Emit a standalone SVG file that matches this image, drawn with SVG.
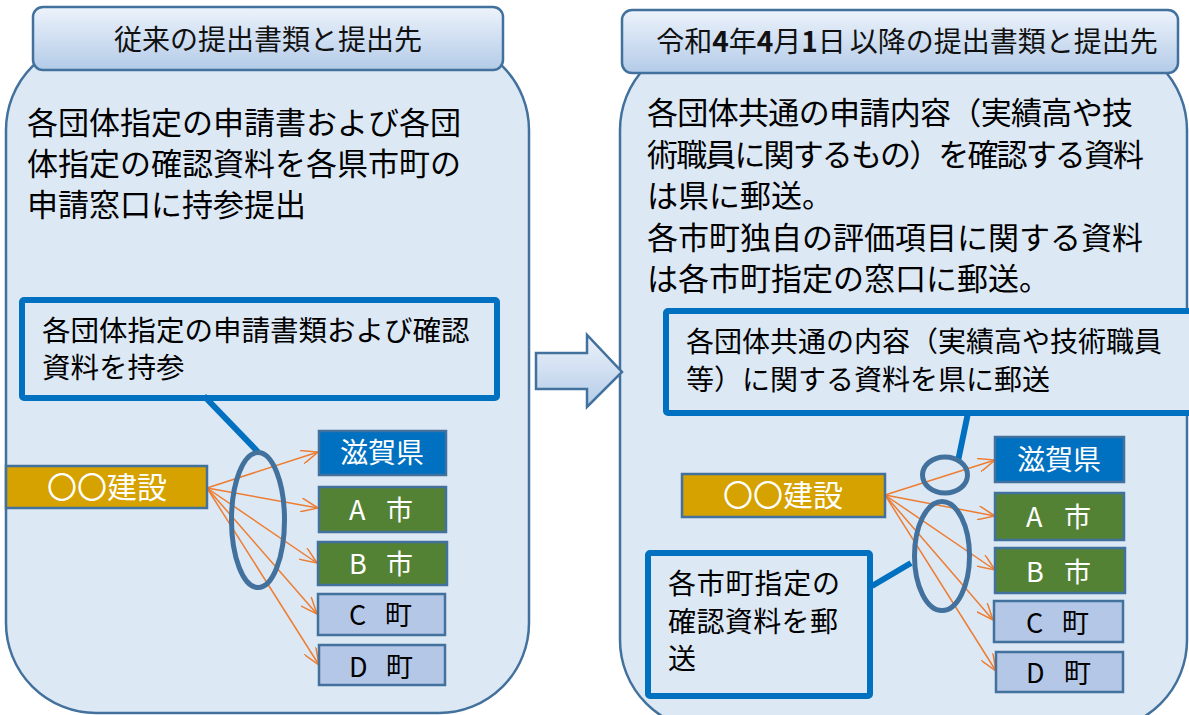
<svg xmlns="http://www.w3.org/2000/svg" width="1189" height="715" viewBox="0 0 1189 715">
  <defs>
    <linearGradient id="hdrGrad" x1="0" y1="0" x2="0" y2="1">
      <stop offset="0" stop-color="#edf3fb"/>
      <stop offset="1" stop-color="#b3cbe8"/>
    </linearGradient>
    <linearGradient id="arrGrad" x1="0" y1="0" x2="0" y2="1">
      <stop offset="0" stop-color="#edf3fb"/>
      <stop offset="1" stop-color="#b3cbe8"/>
    </linearGradient>
    <marker id="openArrow" viewBox="0 0 18 14" refX="17" refY="7" markerWidth="18" markerHeight="14" markerUnits="userSpaceOnUse" orient="auto">
      <path d="M0,0 L17,7 L0,14" fill="none" stroke="#ed7d31" stroke-width="1.5"/>
    </marker>
    <style>
      text { font-family: "Noto Sans CJK JP", "Noto Sans", sans-serif; }
      .panel { fill: #dde8f5; stroke: #41719c; stroke-width: 2.5; }
      .hdr { fill: url(#hdrGrad); stroke: #41719c; stroke-width: 2.5; }
      .hdrText { font-size: 28px; fill: #111; text-anchor: middle; }
      .body { font-size: 31px; fill: #000; }
      .callout { fill: #dde8f5; stroke: #0070c0; stroke-width: 6; }
      .callText { font-size: 28.5px; fill: #000; }
      .ring { fill: none; stroke: #41719c; stroke-width: 5; }
      .lead { stroke: #0070c0; stroke-width: 6; fill: none; }
      .flow { stroke: #ed7d31; stroke-width: 1.5; fill: none; marker-end: url(#openArrow); }
      .box { stroke: #41719c; stroke-width: 2.5; }
      .corp { fill: #d5a200; }
      .pref { fill: #0070c0; }
      .city { fill: #548235; }
      .town { fill: #b4c7e7; }
      .lbl { font-size: 28px; text-anchor: middle; }
      .tag { font-size: 27px; }
      .white { fill: #ffffff; }
      .dark { fill: #000000; }
    </style>
  </defs>

  <!-- Left panel -->
  <g id="left-panel">
    <rect class="panel" x="6" y="40" width="523" height="673" rx="90" ry="90"/>
  </g>
  <!-- Right panel -->
  <g id="right-panel">
    <rect class="panel" x="620" y="40" width="567" height="690" rx="90" ry="90"/>
  </g>

  <!-- Headers -->
  <g id="left-header">
    <rect class="hdr" x="33" y="7" width="470" height="63" rx="10" ry="10"/>
    <text class="hdrText" x="268" y="50">従来の提出書類と提出先</text>
  </g>
  <g id="right-header">
    <rect class="hdr" x="622" y="10" width="556" height="63" rx="10" ry="10"/>
    <text class="hdrText" x="907" y="52">令和<tspan font-weight="bold">4</tspan>年<tspan font-weight="bold">4</tspan>月<tspan font-weight="bold">1</tspan>日<tspan dx="4">以降の提出書類と提出先</tspan></text>
  </g>

  <!-- Transition arrow -->
  <g id="transition-arrow">
    <path d="M536,353 L587,353 L587,335 L622,372 L587,407 L587,389 L536,389 Z" fill="url(#arrGrad)" stroke="#41719c" stroke-width="2.5" stroke-linejoin="miter"/>
  </g>

  <!-- Left body text -->
  <g id="left-description">
    <text class="body" x="27" y="134">各団体指定の申請書および各団</text>
    <text class="body" x="27" y="175">体指定の確認資料を各県市町の</text>
    <text class="body" x="27" y="216">申請窓口に持参提出</text>
  </g>

  <!-- Right body text -->
  <g id="right-description">
    <text class="body" x="647" y="124" textLength="486" lengthAdjust="spacing">各団体共通の申請内容（実績高や技</text>
    <text class="body" x="647" y="166" textLength="497" lengthAdjust="spacing">術職員に関するもの）を確認する資料</text>
    <text class="body" x="647" y="207">は県に郵送。</text>
    <text class="body" x="647" y="249">各市町独自の評価項目に関する資料</text>
    <text class="body" x="647" y="290">は各市町指定の窓口に郵送。</text>
  </g>

  <!-- Left callout -->
  <g id="left-callout">
    <rect class="callout" x="22" y="300" width="475" height="98" rx="2" ry="2"/>
    <text class="callText" x="42" y="341">各団体指定の申請書類および確認</text>
    <text class="callText" x="42" y="378">資料を持参</text>
  </g>

  <!-- Right top callout -->
  <g id="right-callout-pref">
    <rect class="callout" x="666" y="311" width="540" height="102" rx="2" ry="2"/>
    <text class="callText" style="font-size:28px" x="686" y="352">各団体共通の内容（実績高や技術職員</text>
    <text class="callText" style="font-size:28px" x="686" y="390">等）に関する資料を県に郵送</text>
  </g>

  <!-- Right bottom callout -->
  <g id="right-callout-city">
    <rect class="callout" x="648" y="553" width="222" height="143" rx="2" ry="2"/>
    <text class="callText" style="font-size:28px" x="668" y="594" textLength="172" lengthAdjust="spacing">各市町指定の</text>
    <text class="callText" style="font-size:28px" x="668" y="632" textLength="170" lengthAdjust="spacing">確認資料を郵</text>
    <text class="callText" style="font-size:28px" x="668" y="669">送</text>
  </g>

  <!-- Connectors -->
  <g id="connectors">
    <line class="lead" x1="204" y1="396" x2="258" y2="452"/>
    <line class="lead" x1="968" y1="413" x2="958" y2="461"/>
    <line class="lead" x1="872" y1="586" x2="911" y2="563"/>

    <line class="flow" x1="207" y1="488" x2="318" y2="452"/>
    <line class="flow" x1="207" y1="488" x2="318" y2="508"/>
    <line class="flow" x1="207" y1="488" x2="317" y2="563"/>
    <line class="flow" x1="207" y1="488" x2="317" y2="614"/>
    <line class="flow" x1="207" y1="488" x2="319" y2="665"/>

    <line class="flow" x1="885" y1="495" x2="995" y2="460"/>
    <line class="flow" x1="885" y1="495" x2="995" y2="516"/>
    <line class="flow" x1="885" y1="495" x2="995" y2="570"/>
    <line class="flow" x1="885" y1="495" x2="993" y2="620"/>
    <line class="flow" x1="885" y1="495" x2="996" y2="671"/>
  </g>

  <!-- Grouping rings -->
  <g id="left-ring">
    <ellipse class="ring" cx="258" cy="520" rx="26.5" ry="67.5"/>
  </g>
  <g id="right-ring-pref">
    <ellipse class="ring" cx="945" cy="475" rx="22.5" ry="18"/>
  </g>
  <g id="right-ring-city">
    <ellipse class="ring" cx="942" cy="556" rx="27.5" ry="54.5"/>
  </g>

  <!-- Left nodes -->
  <g id="left-corp">
    <rect class="box corp" x="6" y="466" width="201" height="42"/>
    <text class="lbl white" style="font-size:30px" x="107" y="498">〇〇建設</text>
  </g>
  <g id="left-shiga">
    <rect class="box pref" x="319" y="431" width="127" height="44"/>
    <text class="lbl white" x="382" y="463">滋賀県</text>
  </g>
  <g id="left-a">
    <rect class="box city" x="319" y="487" width="127" height="45"/>
    <text class="tag white" x="349" y="520">A<tspan x="386">市</tspan></text>
  </g>
  <g id="left-b">
    <rect class="box city" x="318" y="542" width="129" height="43"/>
    <text class="tag white" x="349" y="574">B<tspan x="386">市</tspan></text>
  </g>
  <g id="left-c">
    <rect class="box town" x="318" y="594" width="127" height="41"/>
    <text class="tag dark" x="349" y="625">C<tspan x="385">町</tspan></text>
  </g>
  <g id="left-d">
    <rect class="box town" x="319" y="645" width="126" height="40"/>
    <text class="tag dark" x="349" y="677">D<tspan x="386">町</tspan></text>
  </g>

  <!-- Right nodes -->
  <g id="right-corp">
    <rect class="box corp" x="682" y="474" width="203" height="43"/>
    <text class="lbl white" style="font-size:30px" x="783" y="506">〇〇建設</text>
  </g>
  <g id="right-shiga">
    <rect class="box pref" x="995" y="437" width="129" height="45"/>
    <text class="lbl white" x="1059" y="470">滋賀県</text>
  </g>
  <g id="right-a">
    <rect class="box city" x="995" y="493" width="129" height="47"/>
    <text class="tag white" x="1026" y="527">A<tspan x="1064">市</tspan></text>
  </g>
  <g id="right-b">
    <rect class="box city" x="995" y="548" width="130" height="45"/>
    <text class="tag white" x="1026" y="582">B<tspan x="1064">市</tspan></text>
  </g>
  <g id="right-c">
    <rect class="box town" x="994" y="601" width="129" height="41"/>
    <text class="tag dark" x="1026" y="633">C<tspan x="1062">町</tspan></text>
  </g>
  <g id="right-d">
    <rect class="box town" x="996" y="652" width="127" height="40"/>
    <text class="tag dark" x="1026" y="683">D<tspan x="1064">町</tspan></text>
  </g>
</svg>
